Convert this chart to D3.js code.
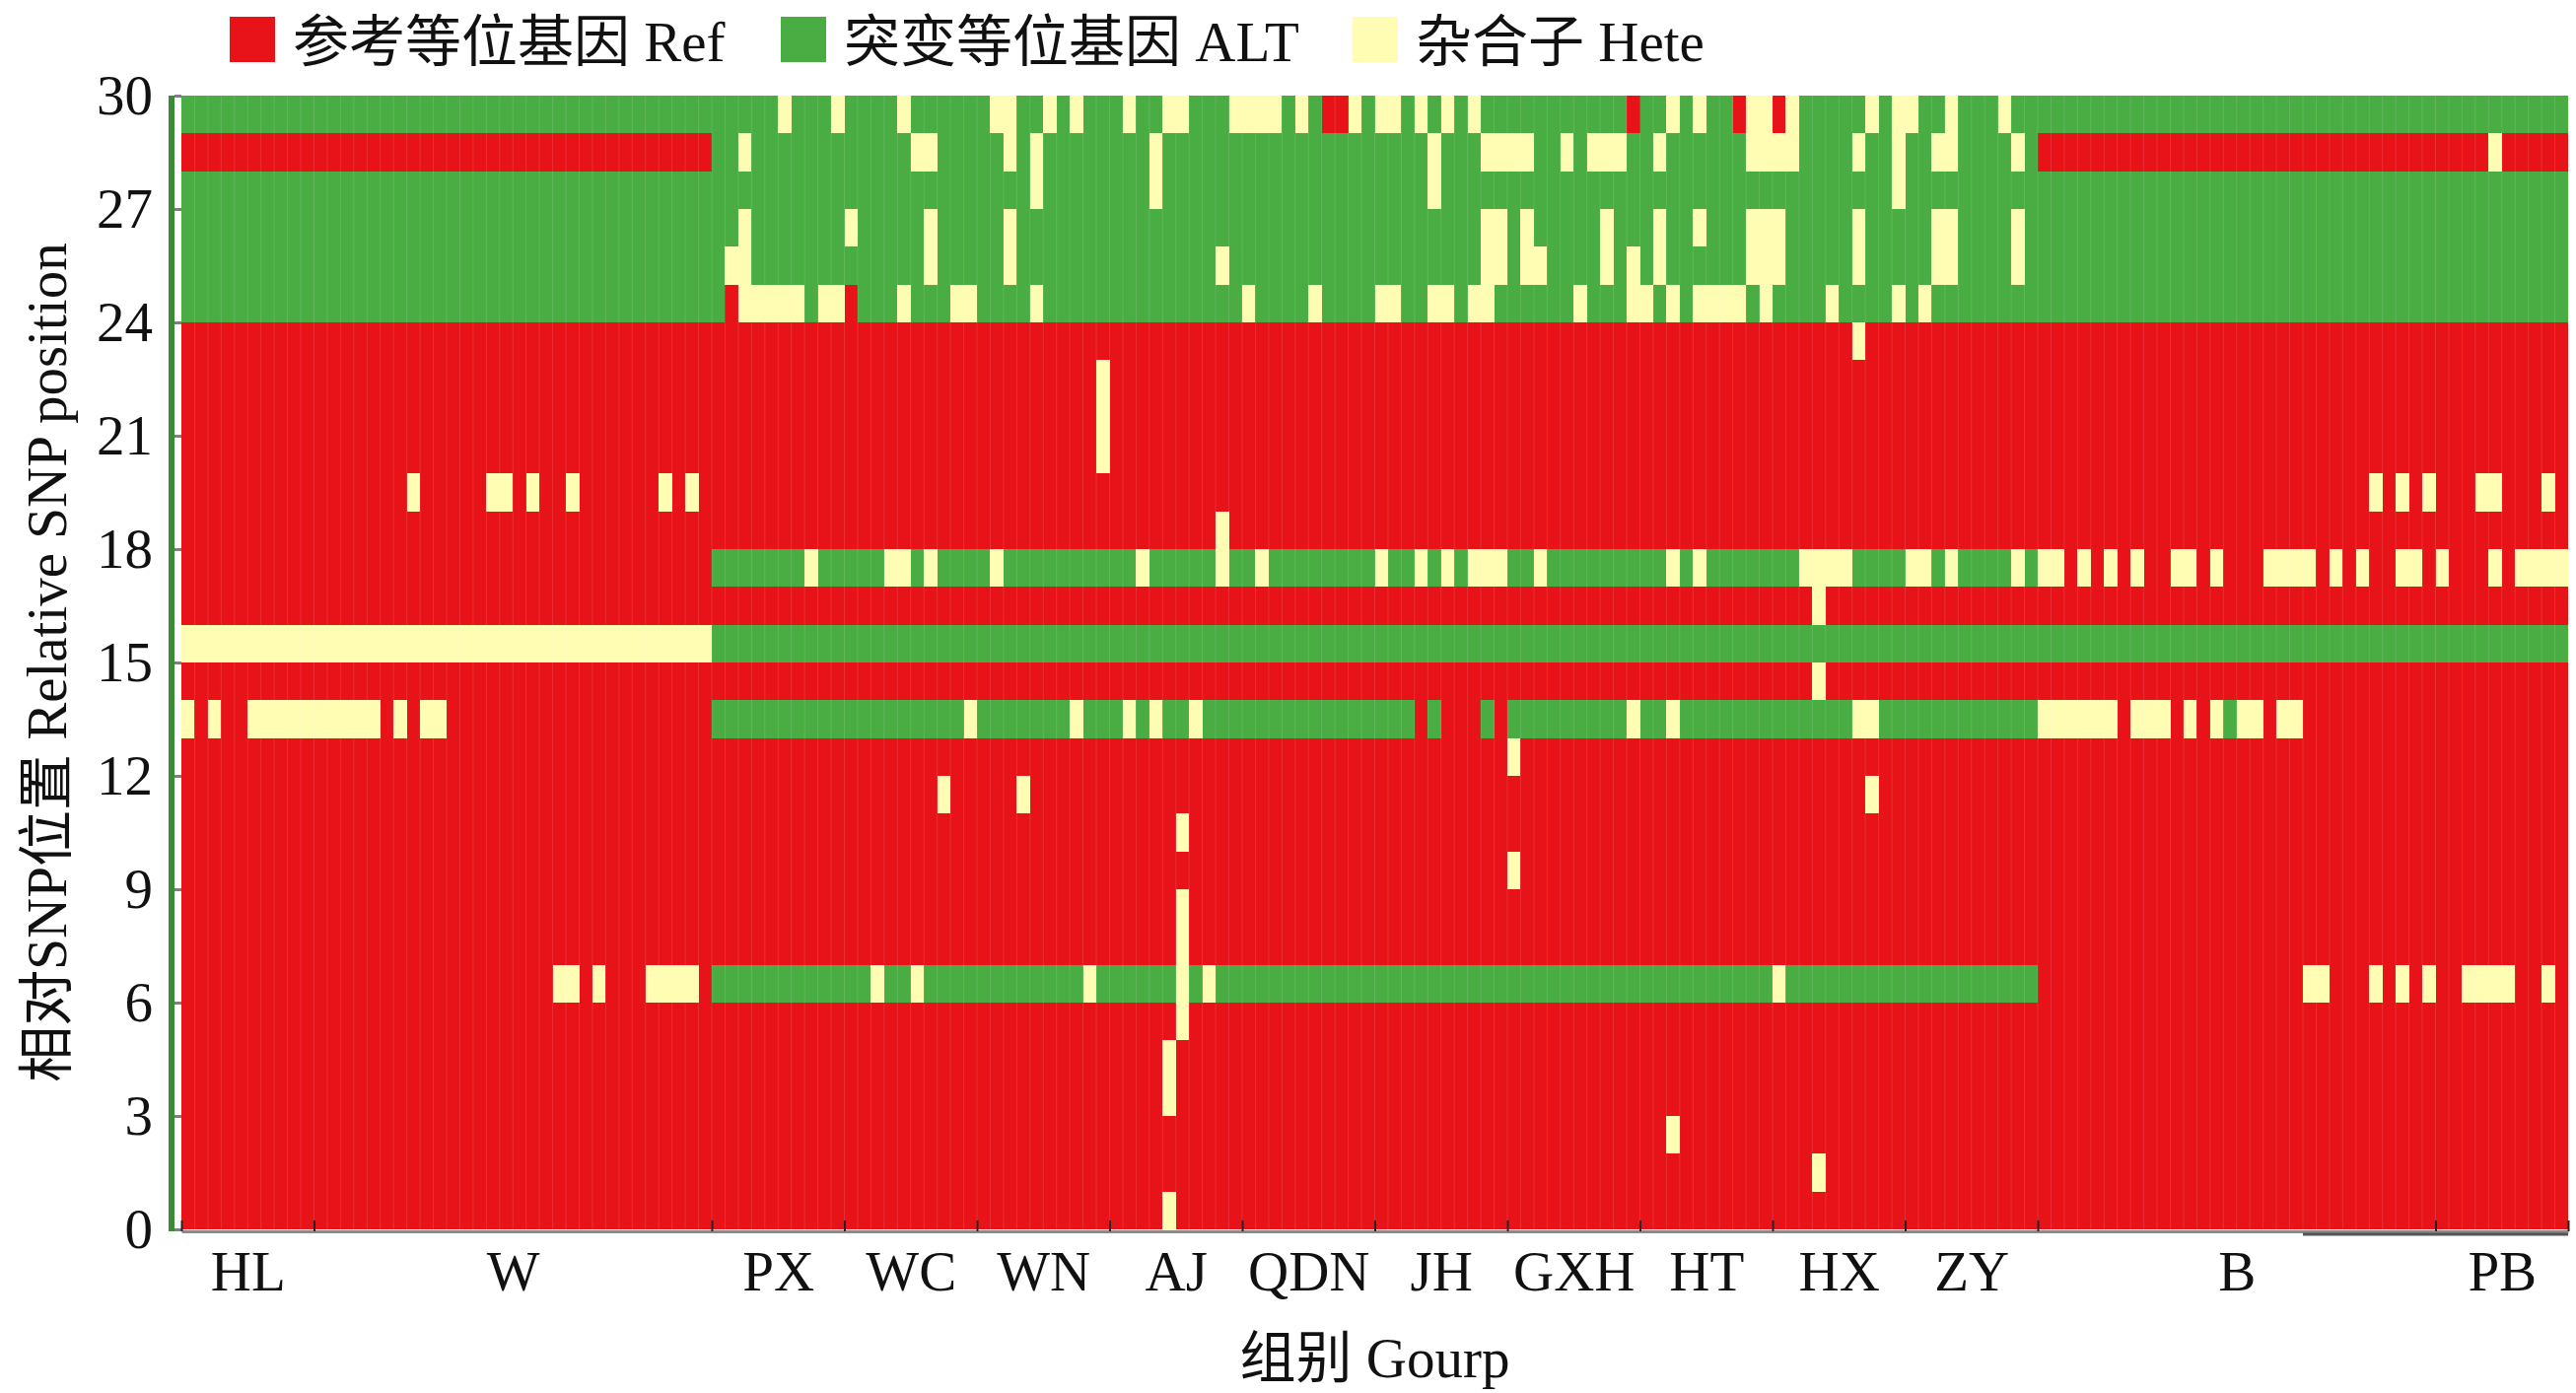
<!DOCTYPE html>
<html>
<head>
<meta charset="utf-8">
<script src="https://cdn.jsdelivr.net/npm/d3@7"></script>
<style>
  body { margin: 0; background: #fff; }
  text { font-family: "Liberation Serif", "Times New Roman", "Noto Sans CJK SC", serif; fill: #111; }
</style>
</head>
<body>
<svg id="chart"></svg>
<script>
// sample groups along x, with the number of samples in each
const groups = ['HL', 'W', 'PX', 'WC', 'WN', 'AJ', 'QDN', 'JH', 'GXH', 'HT', 'HX', 'ZY', 'B', 'PB'];
const groupSizes = [10, 30, 10, 10, 10, 10, 10, 10, 10, 10, 10, 10, 30, 10];

const positionTicks = [0, 3, 6, 9, 12, 15, 18, 21, 24, 27, 30];

// genotype calls, one string per SNP position (index 0 = bottom row)
// R = reference, A = alternative, H = heterozygous; spaces split the groups
const genotypeRows = [
  /* 0 */ 'RRRRRRRRRR RRRRRRRRRRRRRRRRRRRRRRRRRRRRRR RRRRRRRRRR RRRRRRRRRR RRRRRRRRRR RRRRHRRRRR RRRRRRRRRR RRRRRRRRRR RRRRRRRRRR RRRRRRRRRR RRRRRRRRRR RRRRRRRRRR RRRRRRRRRRRRRRRRRRRRRRRRRRRRRR RRRRRRRRRR',
  /* 1 */ 'RRRRRRRRRR RRRRRRRRRRRRRRRRRRRRRRRRRRRRRR RRRRRRRRRR RRRRRRRRRR RRRRRRRRRR RRRRRRRRRR RRRRRRRRRR RRRRRRRRRR RRRRRRRRRR RRRRRRRRRR RRRHRRRRRR RRRRRRRRRR RRRRRRRRRRRRRRRRRRRRRRRRRRRRRR RRRRRRRRRR',
  /* 2 */ 'RRRRRRRRRR RRRRRRRRRRRRRRRRRRRRRRRRRRRRRR RRRRRRRRRR RRRRRRRRRR RRRRRRRRRR RRRRRRRRRR RRRRRRRRRR RRRRRRRRRR RRRRRRRRRR RRHRRRRRRR RRRRRRRRRR RRRRRRRRRR RRRRRRRRRRRRRRRRRRRRRRRRRRRRRR RRRRRRRRRR',
  /* 3 */ 'RRRRRRRRRR RRRRRRRRRRRRRRRRRRRRRRRRRRRRRR RRRRRRRRRR RRRRRRRRRR RRRRRRRRRR RRRRHRRRRR RRRRRRRRRR RRRRRRRRRR RRRRRRRRRR RRRRRRRRRR RRRRRRRRRR RRRRRRRRRR RRRRRRRRRRRRRRRRRRRRRRRRRRRRRR RRRRRRRRRR',
  /* 4 */ 'RRRRRRRRRR RRRRRRRRRRRRRRRRRRRRRRRRRRRRRR RRRRRRRRRR RRRRRRRRRR RRRRRRRRRR RRRRHRRRRR RRRRRRRRRR RRRRRRRRRR RRRRRRRRRR RRRRRRRRRR RRRRRRRRRR RRRRRRRRRR RRRRRRRRRRRRRRRRRRRRRRRRRRRRRR RRRRRRRRRR',
  /* 5 */ 'RRRRRRRRRR RRRRRRRRRRRRRRRRRRRRRRRRRRRRRR RRRRRRRRRR RRRRRRRRRR RRRRRRRRRR RRRRRHRRRR RRRRRRRRRR RRRRRRRRRR RRRRRRRRRR RRRRRRRRRR RRRRRRRRRR RRRRRRRRRR RRRRRRRRRRRRRRRRRRRRRRRRRRRRRR RRRRRRRRRR',
  /* 6 */ 'RRRRRRRRRR RRRRRRRRRRRRRRRRRRHHRHRRRHHHHR AAAAAAAAAA AAHAAHAAAA AAAAAAAAHA AAAAAHAHAA AAAAAAAAAA AAAAAAAAAA AAAAAAAAAA AAAAAAAAAA HAAAAAAAAA AAAAAAAAAA RRRRRRRRRRRRRRRRRRRRHHRRRHRHRH RRHHHHRRHR',
  /* 7 */ 'RRRRRRRRRR RRRRRRRRRRRRRRRRRRRRRRRRRRRRRR RRRRRRRRRR RRRRRRRRRR RRRRRRRRRR RRRRRHRRRR RRRRRRRRRR RRRRRRRRRR RRRRRRRRRR RRRRRRRRRR RRRRRRRRRR RRRRRRRRRR RRRRRRRRRRRRRRRRRRRRRRRRRRRRRR RRRRRRRRRR',
  /* 8 */ 'RRRRRRRRRR RRRRRRRRRRRRRRRRRRRRRRRRRRRRRR RRRRRRRRRR RRRRRRRRRR RRRRRRRRRR RRRRRHRRRR RRRRRRRRRR RRRRRRRRRR RRRRRRRRRR RRRRRRRRRR RRRRRRRRRR RRRRRRRRRR RRRRRRRRRRRRRRRRRRRRRRRRRRRRRR RRRRRRRRRR',
  /* 9 */ 'RRRRRRRRRR RRRRRRRRRRRRRRRRRRRRRRRRRRRRRR RRRRRRRRRR RRRRRRRRRR RRRRRRRRRR RRRRRRRRRR RRRRRRRRRR RRRRRRRRRR HRRRRRRRRR RRRRRRRRRR RRRRRRRRRR RRRRRRRRRR RRRRRRRRRRRRRRRRRRRRRRRRRRRRRR RRRRRRRRRR',
  /* 10 */ 'RRRRRRRRRR RRRRRRRRRRRRRRRRRRRRRRRRRRRRRR RRRRRRRRRR RRRRRRRRRR RRRRRRRRRR RRRRRHRRRR RRRRRRRRRR RRRRRRRRRR RRRRRRRRRR RRRRRRRRRR RRRRRRRRRR RRRRRRRRRR RRRRRRRRRRRRRRRRRRRRRRRRRRRRRR RRRRRRRRRR',
  /* 11 */ 'RRRRRRRRRR RRRRRRRRRRRRRRRRRRRRRRRRRRRRRR RRRRRRRRRR RRRRRRRHRR RRRHRRRRRR RRRRRRRRRR RRRRRRRRRR RRRRRRRRRR RRRRRRRRRR RRRRRRRRRR RRRRRRRHRR RRRRRRRRRR RRRRRRRRRRRRRRRRRRRRRRRRRRRRRR RRRRRRRRRR',
  /* 12 */ 'RRRRRRRRRR RRRRRRRRRRRRRRRRRRRRRRRRRRRRRR RRRRRRRRRR RRRRRRRRRR RRRRRRRRRR RRRRRRRRRR RRRRRRRRRR RRRRRRRRRR HRRRRRRRRR RRRRRRRRRR RRRRRRRRRR RRRRRRRRRR RRRRRRRRRRRRRRRRRRRRRRRRRRRRRR RRRRRRRRRR',
  /* 13 */ 'HRHRRHHHHH HHHHHRHRHHRRRRRRRRRRRRRRRRRRRR AAAAAAAAAA AAAAAAAAAH AAAAAAAHAA AHAHAAHAAA AAAAAAAAAA AAARARRRAR AAAAAAAAAH AAHAAAAAAA AAAAAAHHAA AAAAAAAAAA HHHHHHRHHHRHRHAHHRHHRRRRRRRRRR RRRRRRRRRR',
  /* 14 */ 'RRRRRRRRRR RRRRRRRRRRRRRRRRRRRRRRRRRRRRRR RRRRRRRRRR RRRRRRRRRR RRRRRRRRRR RRRRRRRRRR RRRRRRRRRR RRRRRRRRRR RRRRRRRRRR RRRRRRRRRR RRRHRRRRRR RRRRRRRRRR RRRRRRRRRRRRRRRRRRRRRRRRRRRRRR RRRRRRRRRR',
  /* 15 */ 'HHHHHHHHHH HHHHHHHHHHHHHHHHHHHHHHHHHHHHHH AAAAAAAAAA AAAAAAAAAA AAAAAAAAAA AAAAAAAAAA AAAAAAAAAA AAAAAAAAAA AAAAAAAAAA AAAAAAAAAA AAAAAAAAAA AAAAAAAAAA AAAAAAAAAAAAAAAAAAAAAAAAAAAAAA AAAAAAAAAA',
  /* 16 */ 'RRRRRRRRRR RRRRRRRRRRRRRRRRRRRRRRRRRRRRRR RRRRRRRRRR RRRRRRRRRR RRRRRRRRRR RRRRRRRRRR RRRRRRRRRR RRRRRRRRRR RRRRRRRRRR RRRRRRRRRR RRRHRRRRRR RRRRRRRRRR RRRRRRRRRRRRRRRRRRRRRRRRRRRRRR RRRRRRRRRR',
  /* 17 */ 'RRRRRRRRRR RRRRRRRRRRRRRRRRRRRRRRRRRRRRRR AAAAAAAHAA AAAHHAHAAA AHAAAAAAAA AAHAAAAAHA AHAAAAAAAA HAAHAHAHHH AAHAAAAAAA AAHAHAAAAA AAHHHHAAAA HHAHAAAAHA HHRHRHRHRRHHRHRRRHHHHRHRHRRHHR HRRRHRHHHH',
  /* 18 */ 'RRRRRRRRRR RRRRRRRRRRRRRRRRRRRRRRRRRRRRRR RRRRRRRRRR RRRRRRRRRR RRRRRRRRRR RRRRRRRRHR RRRRRRRRRR RRRRRRRRRR RRRRRRRRRR RRRRRRRRRR RRRRRRRRRR RRRRRRRRRR RRRRRRRRRRRRRRRRRRRRRRRRRRRRRR RRRRRRRRRR',
  /* 19 */ 'RRRRRRRRRR RRRRRRRHRRRRRHHRHRRHRRRRRRHRHR RRRRRRRRRR RRRRRRRRRR RRRRRRRRRR RRRRRRRRRR RRRRRRRRRR RRRRRRRRRR RRRRRRRRRR RRRRRRRRRR RRRRRRRRRR RRRRRRRRRR RRRRRRRRRRRRRRRRRRRRRRRRRHRHRH RRRHHRRRHR',
  /* 20 */ 'RRRRRRRRRR RRRRRRRRRRRRRRRRRRRRRRRRRRRRRR RRRRRRRRRR RRRRRRRRRR RRRRRRRRRH RRRRRRRRRR RRRRRRRRRR RRRRRRRRRR RRRRRRRRRR RRRRRRRRRR RRRRRRRRRR RRRRRRRRRR RRRRRRRRRRRRRRRRRRRRRRRRRRRRRR RRRRRRRRRR',
  /* 21 */ 'RRRRRRRRRR RRRRRRRRRRRRRRRRRRRRRRRRRRRRRR RRRRRRRRRR RRRRRRRRRR RRRRRRRRRH RRRRRRRRRR RRRRRRRRRR RRRRRRRRRR RRRRRRRRRR RRRRRRRRRR RRRRRRRRRR RRRRRRRRRR RRRRRRRRRRRRRRRRRRRRRRRRRRRRRR RRRRRRRRRR',
  /* 22 */ 'RRRRRRRRRR RRRRRRRRRRRRRRRRRRRRRRRRRRRRRR RRRRRRRRRR RRRRRRRRRR RRRRRRRRRH RRRRRRRRRR RRRRRRRRRR RRRRRRRRRR RRRRRRRRRR RRRRRRRRRR RRRRRRRRRR RRRRRRRRRR RRRRRRRRRRRRRRRRRRRRRRRRRRRRRR RRRRRRRRRR',
  /* 23 */ 'RRRRRRRRRR RRRRRRRRRRRRRRRRRRRRRRRRRRRRRR RRRRRRRRRR RRRRRRRRRR RRRRRRRRRR RRRRRRRRRR RRRRRRRRRR RRRRRRRRRR RRRRRRRRRR RRRRRRRRRR RRRRRRHRRR RRRRRRRRRR RRRRRRRRRRRRRRRRRRRRRRRRRRRRRR RRRRRRRRRR',
  /* 24 */ 'AAAAAAAAAA AAAAAAAAAAAAAAAAAAAAAAAAAAAAAA ARHHHHHAHH RAAAHAAAHH AAAAHAAAAA AAAAAAAAAA HAAAAHAAAA HHAAHHAHHA AAAAAHAAAH HAHAHHHHAH AAAAHAAAAH AHAAAAAAAA AAAAAAAAAAAAAAAAAAAAAAAAAAAAAA AAAAAAAAAA',
  /* 25 */ 'AAAAAAAAAA AAAAAAAAAAAAAAAAAAAAAAAAAAAAAA AHHAAAAAAA AAAAAAHAAA AAHAAAAAAA AAAAAAAAHA AAAAAAAAAA AAAAAAAAHH AHHAAAAHAH AHAAAAAAHH HAAAAAHAAA AAHHAAAAHA AAAAAAAAAAAAAAAAAAAAAAAAAAAAAA AAAAAAAAAA',
  /* 26 */ 'AAAAAAAAAA AAAAAAAAAAAAAAAAAAAAAAAAAAAAAA AAHAAAAAAA HAAAAAHAAA AAHAAAAAAA AAAAAAAAAA AAAAAAAAAA AAAAAAAAHH AHAAAAAHAA AHAAHAAAHH HAAAAAHAAA AAHHAAAAHA AAAAAAAAAAAAAAAAAAAAAAAAAAAAAA AAAAAAAAAA',
  /* 27 */ 'AAAAAAAAAA AAAAAAAAAAAAAAAAAAAAAAAAAAAAAA AAAAAAAAAA AAAAAAAAAA AAAAHAAAAA AAAHAAAAAA AAAAAAAAAA AAAAHAAAAA AAAAAAAAAA AAAAAAAAAA AAAAAAAAAH AAAAAAAAAA AAAAAAAAAAAAAAAAAAAAAAAAAAAAAA AAAAAAAAAA',
  /* 28 */ 'RRRRRRRRRR RRRRRRRRRRRRRRRRRRRRRRRRRRRRRR AAHAAAAAAA AAAAAHHAAA AAHAHAAAAA AAAHAAAAAA AAAAAAAAAA AAAAHAAAHH HHAAHAHHHA AHAAAAAAHH HHAAAAHAAH AAHHAAAAHA RRRRRRRRRRRRRRRRRRRRRRRRRRRRRR RRRRHRRRRR',
  /* 29 */ 'AAAAAAAAAA AAAAAAAAAAAAAAAAAAAAAAAAAAAAAA AAAAAHAAAH AAAAHAAAAA AHHAAHAHAA AHAAHHAAAH HHHAHARRHA HHAHAHAHAA AAAAAAAAAR AAHAHAARHH RHAAAAAHAH HAAHAAAHAA AAAAAAAAAAAAAAAAAAAAAAAAAAAAAA AAAAAAAAAA'
];

const legendItems = [
  { state: 'R', label: '参考等位基因 Ref' },
  { state: 'A', label: '突变等位基因 ALT' },
  { state: 'H', label: '杂合子 Hete' }
];

const stateColor = { R: '#e71318', A: '#4aad44', H: '#fffcb3' };

const width = 2613, height = 1413;
const plot = { left: 184, right: 2605, top: 97, bottom: 1247 };
const fontSize = 57;

const svg = d3.select('#chart').attr('width', width).attr('height', height);

const nCols = d3.sum(groupSizes);
const x = d3.scaleLinear().domain([0, nCols]).range([plot.left, plot.right]);
const y = d3.scaleLinear().domain([0, 30]).range([plot.bottom, plot.top]);

// flatten the rows into cells
const cells = [];
genotypeRows.forEach(function (row, r) {
  row.replace(/ /g, '').split('').forEach(function (s, c) {
    cells.push({ row: r, col: c, state: s });
  });
});

svg.append('g')
  .attr('class', 'cells')
  .attr('shape-rendering', 'crispEdges')
  .selectAll('rect')
  .data(cells)
  .enter()
  .append('rect')
  .attr('x', d => x(d.col))
  .attr('y', d => y(d.row + 1))
  .attr('width', d => x(d.col + 1) - x(d.col))
  .attr('height', d => y(d.row) - y(d.row + 1))
  .attr('fill', d => stateColor[d.state]);

// faint separators between samples
svg.append('g')
  .selectAll('line')
  .data(d3.range(1, nCols))
  .enter()
  .append('line')
  .attr('x1', d => x(d)).attr('x2', d => x(d))
  .attr('y1', plot.top).attr('y2', plot.bottom)
  .attr('stroke', '#ffffff')
  .attr('stroke-opacity', 0.12)
  .attr('stroke-width', 1);

// y axis
const yAxis = svg.append('g')
  .attr('transform', 'translate(' + plot.left + ',0)')
  .call(d3.axisLeft(y).tickValues(positionTicks).tickSize(7).tickSizeOuter(0).tickPadding(22));
yAxis.select('.domain').remove();
yAxis.selectAll('.tick line').attr('stroke', '#808080').attr('stroke-width', 3);
yAxis.selectAll('.tick text').attr('font-size', fontSize).attr('fill', '#1a1a1a');

svg.append('line')
  .attr('x1', 174).attr('x2', 174)
  .attr('y1', plot.top).attr('y2', plot.bottom + 2)
  .attr('stroke', '#3b8a36')
  .attr('stroke-width', 6);

// x axis: group boundaries and group names
const bounds = [0];
groupSizes.forEach(function (n, i) { bounds.push(bounds[i] + n); });
const centers = groupSizes.map((n, i) => bounds[i] + n / 2);

const xTicks = svg.append('g')
  .attr('transform', 'translate(0,' + (plot.bottom + 2) + ')')
  .call(d3.axisBottom(x).tickValues(bounds).tickSize(-11).tickSizeOuter(0).tickFormat(''));
xTicks.select('.domain').attr('stroke', '#8a8a8a').attr('stroke-width', 3);
xTicks.selectAll('.tick line').attr('stroke', '#222').attr('stroke-width', 2);

svg.append('line')
  .attr('x1', x(160)).attr('x2', x(nCols))
  .attr('y1', plot.bottom + 5).attr('y2', plot.bottom + 5)
  .attr('stroke', '#555')
  .attr('stroke-width', 3);

const xLabels = svg.append('g')
  .attr('transform', 'translate(0,' + (plot.bottom + 2) + ')')
  .call(d3.axisBottom(x).tickValues(centers).tickSize(0).tickPadding(20)
    .tickFormat((d, i) => groups[i]));
xLabels.select('.domain').remove();
xLabels.selectAll('.tick text').attr('font-size', fontSize).attr('fill', '#111');

// axis titles
svg.append('text')
  .attr('x', (plot.left + plot.right) / 2)
  .attr('y', 1397)
  .attr('text-anchor', 'middle')
  .attr('font-size', fontSize)
  .text('组别 Gourp');

svg.append('text')
  .attr('transform', 'translate(67,' + ((plot.top + plot.bottom) / 2) + ') rotate(-90)')
  .attr('text-anchor', 'middle')
  .attr('font-size', fontSize)
  .text('相对SNP位置 Relative SNP position');

// legend
const legendX = [233, 792, 1372];
const legend = svg.append('g')
  .selectAll('g')
  .data(legendItems)
  .enter()
  .append('g')
  .attr('transform', (d, i) => 'translate(' + legendX[i] + ',0)');

legend.append('rect')
  .attr('x', 0).attr('y', 17)
  .attr('width', 46).attr('height', 46)
  .attr('fill', d => stateColor[d.state]);

legend.append('text')
  .attr('x', 64).attr('y', 62)
  .attr('font-size', fontSize)
  .text(d => d.label);
</script>
</body>
</html>
